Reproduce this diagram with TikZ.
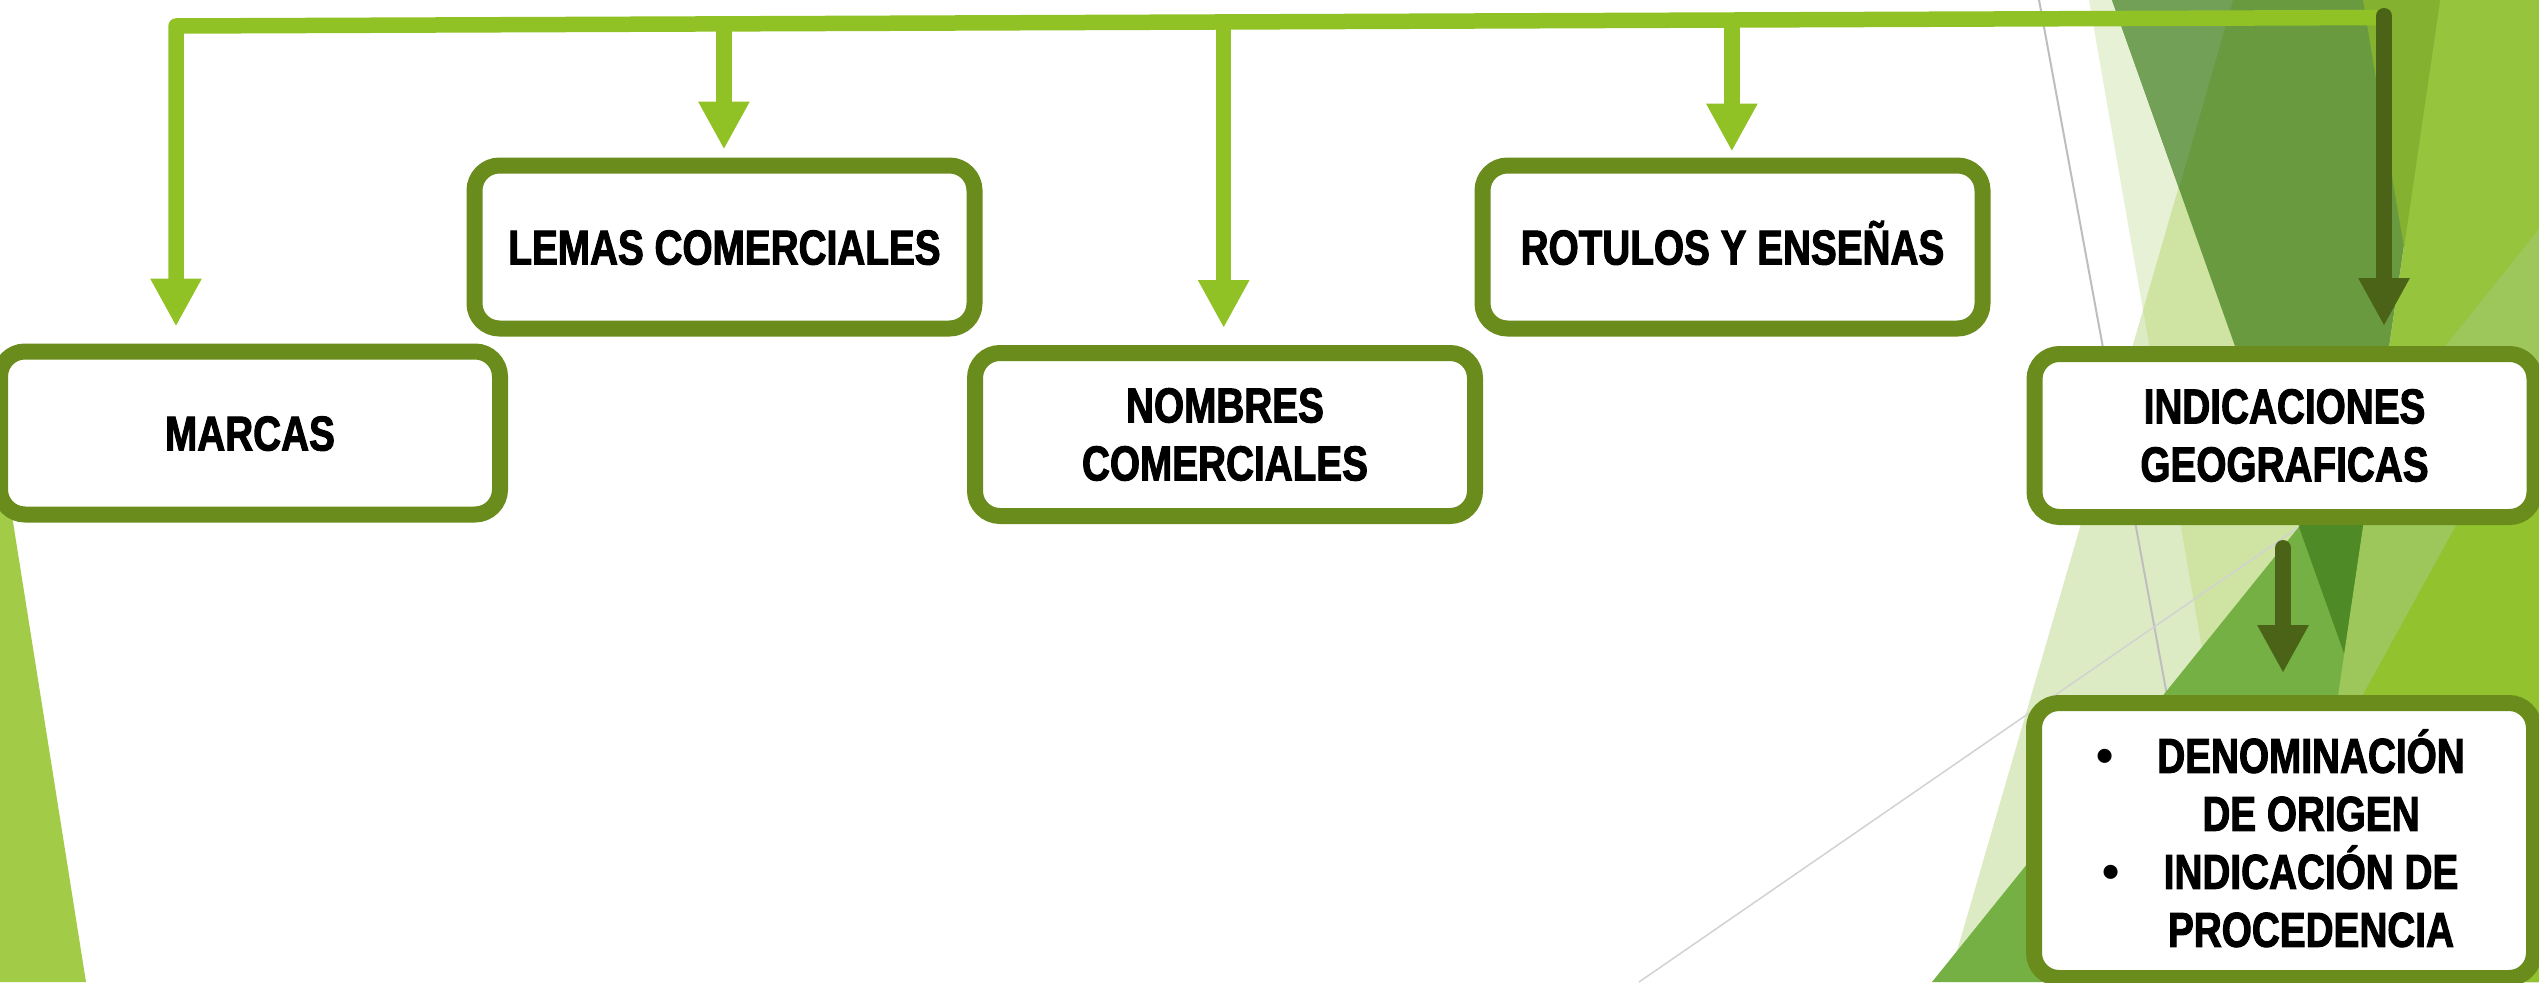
\documentclass[tikz,border=0pt]{standalone}
\usepackage{fontspec}
\setmainfont{Liberation Sans}
\newfontfamily\boxfont{Liberation Sans}[FakeStretch=0.79,FakeBold=2]
\newfontfamily\bulletfont{Liberation Sans}
\usetikzlibrary{arrows.meta,calc}
\definecolor{busgreen}{HTML}{91C225}
\definecolor{darkarrow}{HTML}{4A6316}
\definecolor{boxborder}{HTML}{6A8C1C}
\definecolor{leftgreen}{HTML}{A2CB48}
\definecolor{palestrip}{HTML}{E7F1D6}
\definecolor{tawhite}{HTML}{DDEBC4}
\definecolor{tapale}{HTML}{CFE3A2}
\definecolor{tmed}{HTML}{74B043}
\definecolor{rightlight}{HTML}{96C43C}
\definecolor{lightmid}{HTML}{9EC75B}
\definecolor{rightlb}{HTML}{92C22D}
\definecolor{tone}{HTML}{6A9A40}
\definecolor{tonelight}{HTML}{73A057}
\definecolor{olivetri}{HTML}{84B230}
\definecolor{darktri}{HTML}{4E8A25}
\definecolor{grayline}{HTML}{BEBEBE}
\definecolor{graylinetwo}{HTML}{D2D2D2}
\begin{document}
\begin{tikzpicture}[x=1pt, y=-1pt,
  box/.style={draw=boxborder, line width=16pt, rounded corners=25pt, fill=white,
    minimum width=500pt, minimum height=163pt, inner sep=0pt, align=center,
    font=\boxfont\bfseries\fontsize{49}{58}\selectfont, text=black},
  onecap/.style={text height=35pt, text depth=0pt},
  boxtext/.style={inner sep=0pt, align=center, text=black,
    font=\boxfont\bfseries\fontsize{49}{58}\selectfont},
  lgarrow/.style={draw=busgreen, line width=15.5pt, line join=round,
    -{Triangle[width=48pt,length=48pt]}},
  dkarrow/.style={draw=darkarrow, line width=16pt, line cap=round,
    -{Triangle[width=48pt,length=48pt]}}]
\useasboundingbox (0,0) rectangle (2539,982);
\clip (0,0) rectangle (2539,982);
\fill[white] (0,0) rectangle (2539,982);

% background facets
\fill[leftgreen] (0,440) -- (86,982) -- (0,982) -- cycle;
\fill[palestrip] (2089,0) -- (2539,0) -- (2539,982) -- (2260,982) -- cycle;
\fill[tawhite] (2143,310) -- (1948,982) -- (2260,982) -- cycle;
\fill[tapale] (2233,0) -- (2143,310) -- (2260,982) -- (2539,982) -- (2539,0) -- cycle;
\draw[grayline, line width=2pt] (2039,0) -- (2200,875);
\draw[graylinetwo, line width=1.5pt] (1639,982) -- (2299,527);
\fill[tmed] (1932,982) -- (2539,229) -- (2539,982) -- cycle;
\fill[rightlight] (2440,0) -- (2539,0) -- (2539,229) -- (2377,431) -- cycle;
\fill[lightmid] (2377,431) -- (2539,229) -- (2539,375) -- (2329,757) -- cycle;
\fill[rightlb] (2539,375) -- (2539,982) -- (2205,982) -- cycle;
\fill[tone] (2112,0) -- (2440,0) -- (2344,653) -- cycle;
\fill[tonelight] (2112,0) -- (2233,0) -- (2179,188) -- cycle;
\fill[olivetri] (2363,0) -- (2440,0) -- (2404,248) -- cycle;
\fill[darktri] (2299,527) -- (2377,431) -- (2344,653) -- cycle;

% boxes
\node[box, onecap] (marcas) at (250,433) {MARCAS};
\node[box, onecap] (lemas) at (724.5,247) {LEMAS COMERCIALES};
\node[box] (nombres) at (1225,434.5) {NOMBRES\\COMERCIALES};
\node[box, onecap] (rotulos) at (1732.5,247) {ROTULOS Y ENSEÑAS};
\node[box] (indic) at (2284.5,435.5) {INDICACIONES\\GEOGRAFICAS};
\node[box, minimum height=275pt] (origen) at (2284,840.5) {};
\node[boxtext] (origentext) at (2311,860)
  {\smash{\llap{\bulletfont\bfseries\textbullet\hspace{44pt}}DENOMINACIÓN}\\
   DE ORIGEN\\
   \llap{\bulletfont\bfseries\textbullet\hspace{44pt}}INDICACIÓN DE\\
   PROCEDENCIA};

% connectors
\coordinate (busL) at (176,26);
\coordinate (busR) at (2384,17.5);
\coordinate (bLemas) at ($(busL)!(lemas.north)!(busR)$);
\coordinate (bNombres) at ($(busL)!(nombres.north)!(busR)$);
\coordinate (bRotulos) at ($(busL)!(rotulos.north)!(busR)$);
\draw[lgarrow, shorten >=17pt] (busR) -- (busL) -- (busL |- marcas.north);
\draw[lgarrow, shorten >=8pt] (bLemas) -- (bLemas |- lemas.north);
\draw[lgarrow, shorten >=17pt] (bNombres) -- (bNombres |- nombres.north);
\draw[lgarrow, shorten >=6pt] (bRotulos) -- (bRotulos |- rotulos.north);
\coordinate (dkTop) at (2384,16);
\draw[dkarrow, shorten >=20pt] (dkTop) -- (dkTop |- indic.north);
\coordinate (dkTwoTop) at (2283,548);
\draw[dkarrow, shorten >=22pt] (dkTwoTop) -- (dkTwoTop |- origen.north);
\end{tikzpicture}
\end{document}
